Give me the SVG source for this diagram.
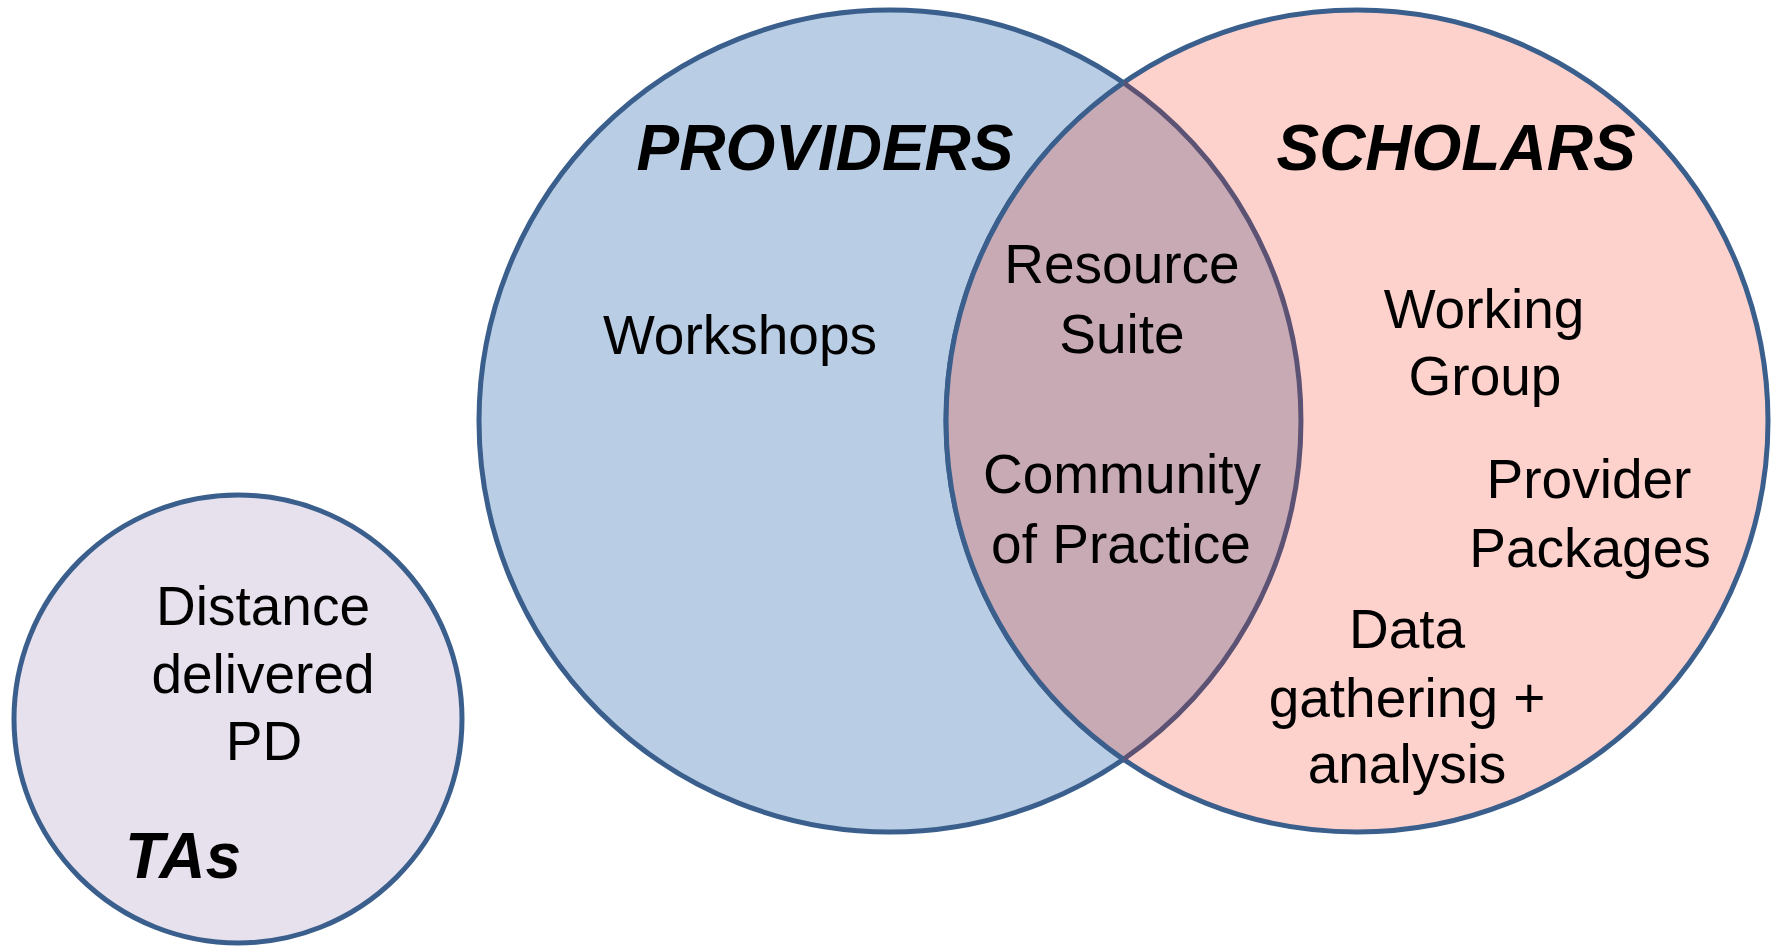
<svg xmlns="http://www.w3.org/2000/svg" width="1779" height="947" viewBox="0 0 1779 947">
  <style>
    .ring { stroke: #3b5f8d; stroke-width: 5; }
    .label { font-family: "Liberation Sans", Arial, sans-serif; font-size: 55px; fill: #000; text-anchor: middle; }
    .title { font-family: "Liberation Sans", Arial, sans-serif; font-size: 64px; font-weight: bold; font-style: italic; fill: #000; text-anchor: middle; }
  </style>
  <rect width="1779" height="947" fill="#ffffff"/>

  <!-- Providers set -->
  <g id="providers">
    <circle class="ring" cx="890" cy="421" r="411" fill="#b9cde4"/>
  </g>

  <!-- Scholars set -->
  <g id="scholars">
    <circle class="ring" cx="1357" cy="421" r="411" fill="#fdd2cc"/>
  </g>

  <!-- Shared region of the two sets -->
  <g id="overlap">
    <path d="M1123.5 82.8 A411 411 0 0 1 1123.5 759.2 A411 411 0 0 1 1123.5 82.8 Z" fill="#c8aab5"/>
    <path d="M1123.5 82.8 A411 411 0 0 1 1123.5 759.2" fill="none" stroke="#5c5274" stroke-width="5"/>
    <path class="ring" d="M1123.5 759.2 A411 411 0 0 1 1123.5 82.8" fill="none"/>
  </g>

  <!-- TAs set -->
  <g id="tas">
    <circle class="ring" cx="238" cy="719" r="224" fill="#e7e1ed"/>
    <text class="label" x="263" y="625">Distance</text>
    <text class="label" x="263" y="693">delivered</text>
    <text class="label" x="264" y="760">PD</text>
    <text class="title" x="183" y="878">TAs</text>
  </g>

  <!-- Set labels and items -->
  <g id="providers-labels">
    <text class="title" x="825" y="170">PROVIDERS</text>
    <text class="label" x="740" y="354">Workshops</text>
  </g>

  <g id="overlap-labels">
    <text class="label" x="1122" y="283">Resource</text>
    <text class="label" x="1122" y="353">Suite</text>
    <text class="label" x="1122" y="493">Community</text>
    <text class="label" x="1121" y="563">of Practice</text>
  </g>

  <g id="scholars-labels">
    <text class="title" x="1456" y="170">SCHOLARS</text>
    <text class="label" x="1484" y="328">Working</text>
    <text class="label" x="1485" y="395">Group</text>
    <text class="label" x="1589" y="498">Provider</text>
    <text class="label" x="1590" y="567">Packages</text>
    <text class="label" x="1407" y="648">Data</text>
    <text class="label" x="1407" y="717">gathering +</text>
    <text class="label" x="1407" y="783">analysis</text>
  </g>

  <!-- No connectors in this diagram -->
  <g id="connectors"/>
</svg>
